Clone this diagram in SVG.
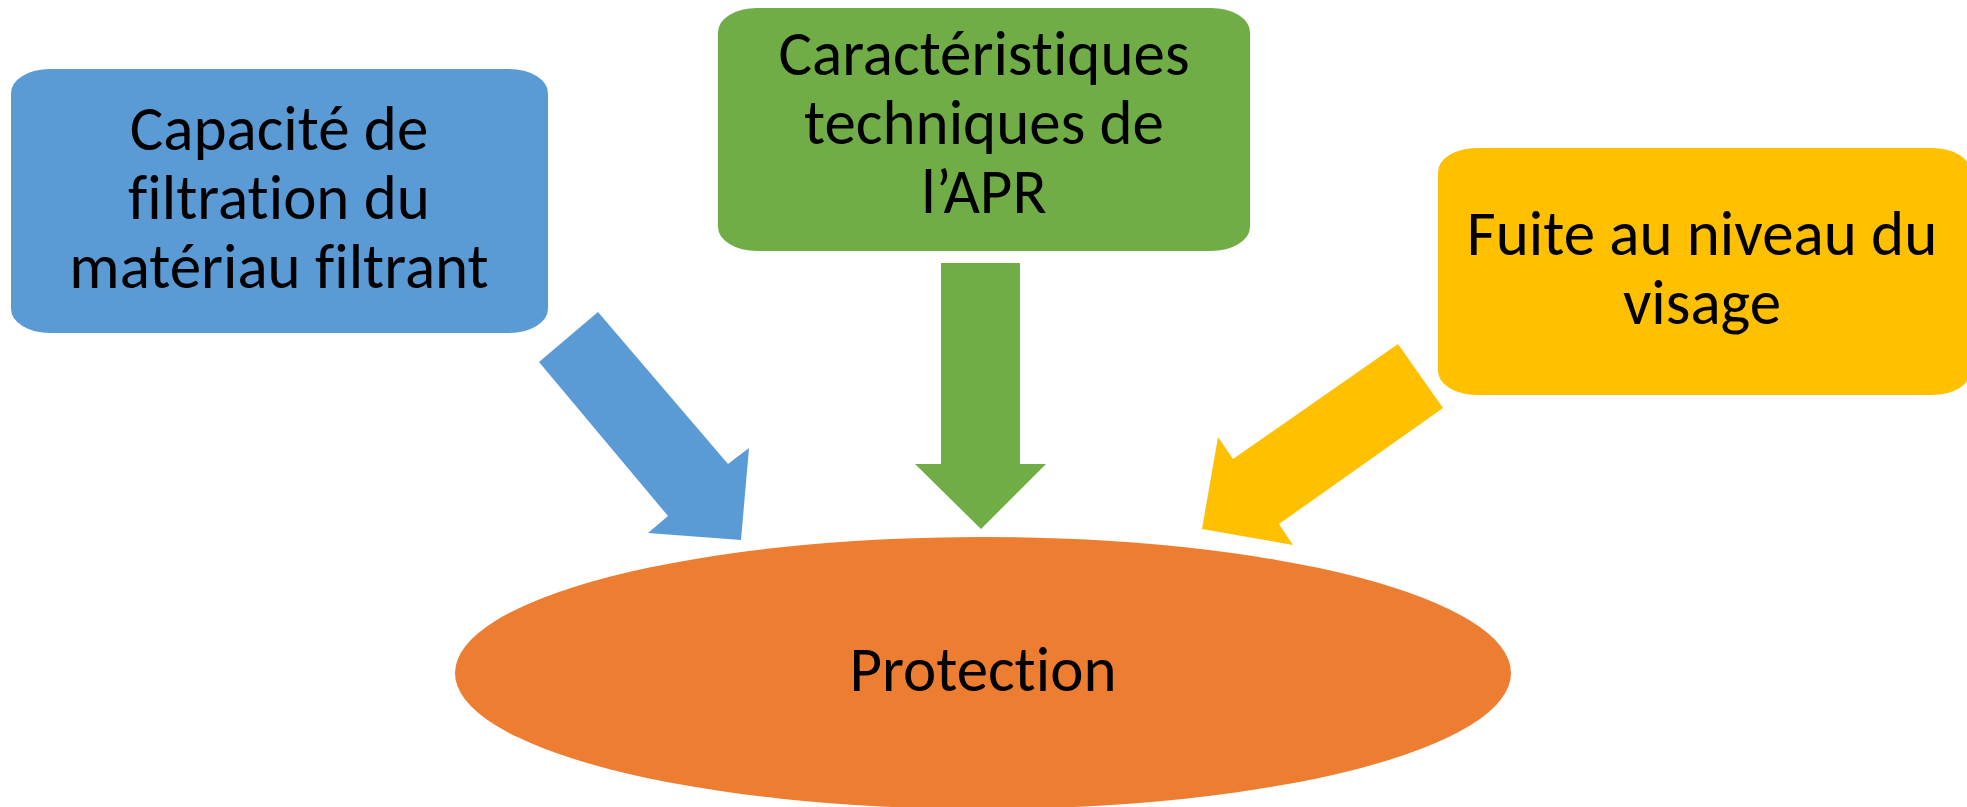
<svg xmlns="http://www.w3.org/2000/svg" width="1967" height="807" viewBox="0 0 1967 807">
<style>
.lbl{font-family:Calibri,Carlito,"Liberation Sans",Arial,sans-serif;font-size:63px;fill:#000;text-anchor:middle;font-variant-ligatures:none;font-feature-settings:"liga" 0}
.blue{fill:#5B9BD5}
.green{fill:#70AD47}
.yellow{fill:#FFC000}
.orange{fill:#ED7D31}
</style>
<rect width="1967" height="807" fill="#FFFFFF"/>
<g id="node-capacite">
<rect class="blue" x="11" y="69" width="537" height="264" rx="39" ry="24"/>
<text class="lbl" x="279" y="150">Capacité de</text>
<text class="lbl" x="279" y="219">filtration du</text>
<text class="lbl" x="279" y="288">matériau filtrant</text>
</g>
<g id="node-caracteristiques">
<rect class="green" x="718" y="8" width="532" height="243" rx="39" ry="24"/>
<text class="lbl" x="984" y="75">Caractéristiques</text>
<text class="lbl" x="984" y="144">techniques de</text>
<text class="lbl" x="984" y="213">l’APR</text>
</g>
<g id="node-fuite">
<rect class="yellow" x="1438" y="148" width="533" height="247" rx="39" ry="24"/>
<text class="lbl" x="1702" y="255">Fuite au niveau du</text>
<text class="lbl" x="1702" y="324">visage</text>
</g>
<g id="node-protection">
<ellipse class="orange" cx="983" cy="673" rx="528" ry="136"/>
<text class="lbl" x="983" y="691">Protection</text>
</g>
<g id="connectors">
<polygon class="blue" points="598,312 539,362 668,516 648,533 741,540 749,448 728,464"/>
<polygon class="green" points="941,263 1020,263 1020,464 1046,464 981,529 915,464 941,464"/>
<polygon class="yellow" points="1398,344 1443,408 1279,524 1293,545 1202,529 1218,437 1233,459"/>
</g>
</svg>
